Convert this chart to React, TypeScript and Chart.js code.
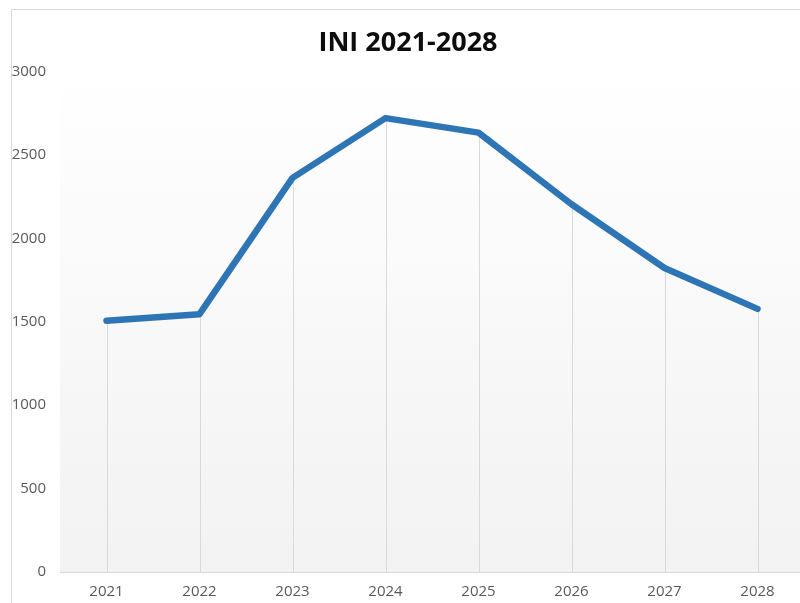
import React, { useEffect, useRef } from "react";
import { Chart, registerables } from "chart.js";

Chart.register(...registerables);

const title = "INI 2021-2028";
const years = ["2021", "2022", "2023", "2024", "2025", "2026", "2027", "2028"];
const iniValues = [1505, 1545, 2362, 2720, 2633, 2204, 1822, 1577];
const yMin = 0;
const yMax = 3000;
const yStep = 500;

const plotBackground = {
  id: "plotBackground",
  beforeDraw(chart: any) {
    const { ctx, chartArea } = chart;
    if (!chartArea) return;
    const g = ctx.createLinearGradient(0, chartArea.top, 0, chartArea.bottom);
    g.addColorStop(0, "#ffffff");
    g.addColorStop(1, "#f2f2f2");
    ctx.save();
    ctx.fillStyle = g;
    ctx.fillRect(chartArea.left, chartArea.top, chartArea.right - chartArea.left, chartArea.bottom - chartArea.top);
    ctx.restore();
  },
};

const dropLines = {
  id: "dropLines",
  beforeDatasetsDraw(chart: any) {
    const { ctx, chartArea } = chart;
    const meta = chart.getDatasetMeta(0);
    ctx.save();
    ctx.strokeStyle = "#d9d9d9";
    ctx.lineWidth = 1;
    meta.data.forEach((pt: any) => {
      const x = Math.round(pt.x) + 0.5;
      ctx.beginPath();
      ctx.moveTo(x, pt.y);
      ctx.lineTo(x, chartArea.bottom);
      ctx.stroke();
    });
    ctx.restore();
  },
};

export default function App() {
  const ref = useRef<HTMLCanvasElement | null>(null);
  useEffect(() => {
    if (!ref.current) return;
    const chart = new Chart(ref.current, {
      type: "line",
      data: {
        labels: years,
        datasets: [
          {
            label: title,
            data: iniValues,
            borderColor: "#2e75b6",
            backgroundColor: "#2e75b6",
            borderWidth: 6.5,
            borderCapStyle: "round",
            borderJoinStyle: "round",
            pointRadius: 0,
            tension: 0,
          },
        ],
      },
      options: {
        responsive: false,
        animation: false,
        layout: { padding: { left: 0, right: 4, top: 0, bottom: 0 } },
        plugins: {
          legend: { display: false },
          tooltip: { enabled: false },
          title: {
            display: true,
            text: title,
            color: "#0d0d0d",
            font: { family: "'Open Sans'", size: 27, weight: "bold" },
            padding: { top: 17, bottom: 12 },
          },
        },
        scales: {
          x: {
            offset: true,
            grid: { display: false, drawTicks: false },
            border: { display: true, color: "#d9d9d9", width: 1 },
            ticks: {
              color: "#595959",
              font: { family: "'Open Sans'", size: 15 },
              padding: 11,
              maxRotation: 0,
            },
            afterFit(scale: any) {
              scale.height = 31;
            },
          },
          y: {
            min: yMin,
            max: yMax,
            grid: { display: false, drawTicks: false },
            border: { display: false },
            ticks: {
              stepSize: yStep,
              color: "#595959",
              font: { family: "'Open Sans'", size: 15 },
              padding: 14,
              callback: (v: any) => String(v),
            },
            afterFit(scale: any) {
              scale.width = 48;
            },
          },
        },
      },
      plugins: [plotBackground, dropLines],
    });
    return () => chart.destroy();
  }, []);

  return (
    <div
      style={{
        position: "absolute",
        left: 11,
        top: 9,
        width: 788,
        height: 593,
        overflow: "hidden",
        borderTop: "1px solid #d9d9d9",
        borderLeft: "1px solid #d9d9d9",
        background: "#ffffff",
      }}
    >
      <canvas ref={ref} width={796} height={593} style={{ display: "block" }} />
    </div>
  );
}
